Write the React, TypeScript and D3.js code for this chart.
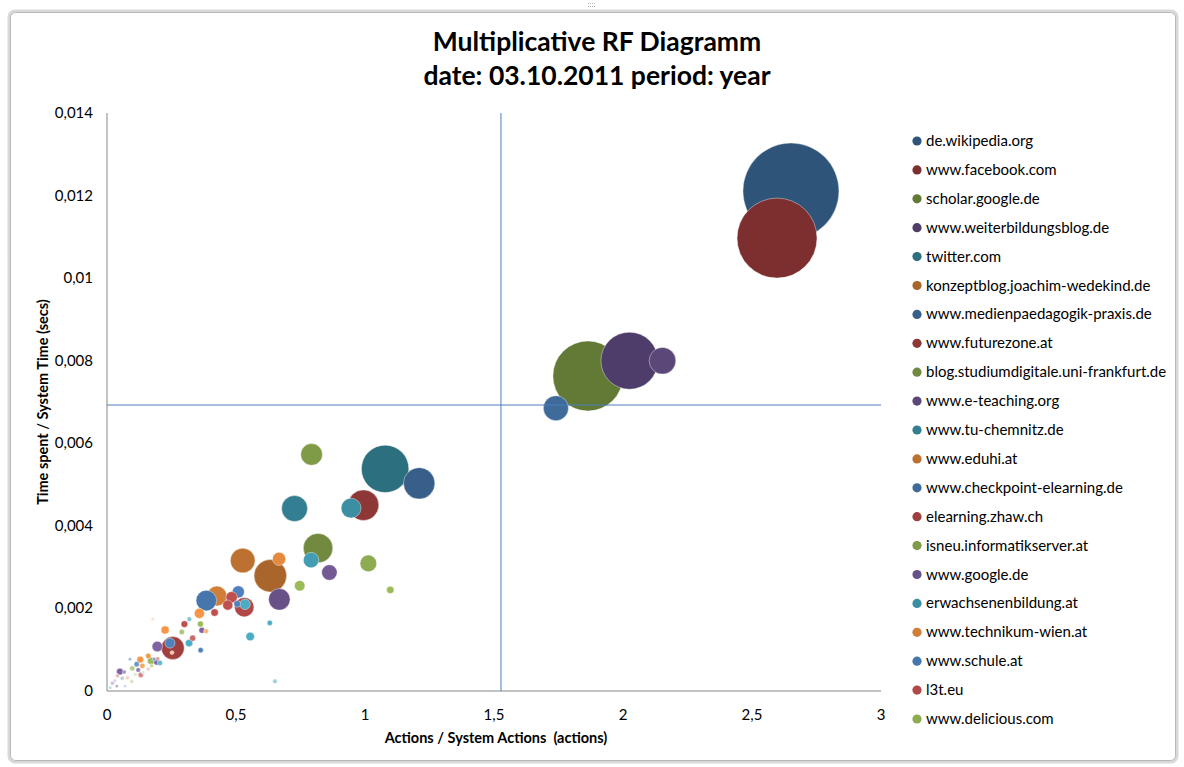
import React from "react";
import * as d3 from "d3";

// ---------- data ----------
const legendNames = [
  "de.wikipedia.org",
  "www.facebook.com",
  "scholar.google.de",
  "www.weiterbildungsblog.de",
  "twitter.com",
  "konzeptblog.joachim-wedekind.de",
  "www.medienpaedagogik-praxis.de",
  "www.futurezone.at",
  "blog.studiumdigitale.uni-frankfurt.de",
  "www.e-teaching.org",
  "www.tu-chemnitz.de",
  "www.eduhi.at",
  "www.checkpoint-elearning.de",
  "elearning.zhaw.ch",
  "isneu.informatikserver.at",
  "www.google.de",
  "erwachsenenbildung.at",
  "www.technikum-wien.at",
  "www.schule.at",
  "l3t.eu",
  "www.delicious.com",
];

// Actions / System Actions
const actionsRatio = [
  2.651, 2.597, 1.864, 2.025, 1.078, 0.633, 1.21, 0.994, 0.818, 2.153,
  0.727, 0.526, 1.74, 0.255, 0.793, 0.668, 0.946, 0.426, 0.385, 0.532,
  1.013, 0.862, 0.791, 0.667, 0.509, 0.483, 0.747, 0.195, 0.535, 0.358,
  0.244, 0.468, 1.098, 0.368, 0.555, 0.225, 0.505, 0.417, 0.171, 0.193,
  0.318, 0.129, 0.363, 0.3, 0.362, 0.05, 0.631, 0.16, 0.115, 0.332,
  0.29, 0.121, 0.205, 0.137, 0.183, 0.131, 0.098, 0.067, 0.319, 0.384,
  0.089, 0.197, 0.173, 0.038, 0.651, 0.252, 0.059, 0.041, 0.096, 0.021,
  0.012, 0.079, 0.07, 0.16, 0.11, 0.03, 0.14, 0.177,
];

// Time spent / System Time
const timeRatio = [
  0.01211, 0.01097, 0.00763, 0.008, 0.00538, 0.00279, 0.00503, 0.0045, 0.00346, 0.008,
  0.00442, 0.00316, 0.00685, 0.00104, 0.00573, 0.00222, 0.00443, 0.0023, 0.00219, 0.00203,
  0.00309, 0.00287, 0.00317, 0.0032, 0.0024, 0.00227, 0.00255, 0.00108, 0.0021, 0.00188,
  0.00116, 0.00208, 0.00245, 0.00147, 0.00132, 0.00148, 0.00211, 0.0019, 0.00073, 0.0007,
  0.00116, 0.00076, 0.00099, 0.00162, 0.00162, 0.00047, 0.00165, 0.00085, 0.00065, 0.00128,
  0.00143, 0.00051, 0.00068, 0.00061, 0.00077, 0.00039, 0.00055, 0.00046, 0.00174, 0.00145,
  0.00077, 0.00078, 0.00061, 0.00012, 0.000235, 0.00093, 0.00031, 0.00037, 0.00023, 0.00019,
  0.00008, 0.00032, 0.00012, 0.00053, 0.0004, 0.00025, 0.00045, 0.00174,
];

// bubble size (relative weight)
const bubbleSize = [
  1000, 694, 532, 353, 244, 115, 107, 102, 94, 77,
  73, 66, 68, 57, 51, 50, 43, 43, 46, 41,
  30, 26, 26, 19, 16, 14, 12, 12, 12, 11,
  11, 11, 6, 4, 8, 7, 5, 6, 6, 4,
  6, 5, 3, 5, 4, 5, 3, 3, 3, 4,
  3, 2.3, 3, 3, 1.7, 3, 3, 1.7, 2.3, 2.7,
  1.2, 1.7, 1.7, 1.2, 2.3, 1.7, 1.7, 1.7, 1.7, 1.7,
  1.2, 1.7, 1.2, 1.7, 1.7, 1.2, 1.2, 1.2,
];

const xTicks = [0, 0.5, 1, 1.5, 2, 2.5, 3];
const yTicks = [0, 0.002, 0.004, 0.006, 0.008, 0.01, 0.012, 0.014];

// reference cross lines
const crossX = 1.527;
const crossY = 0.006927;

const darkest = ["#2F5479", "#7D2F2F", "#637A36", "#4E3D6A", "#2C6F7F", "#A9652A"];
const base = ["#4F81BD", "#C0504D", "#9BBB59", "#8064A2", "#4BACC6", "#F79646"];

function seriesColor(i: number): string {
  const hue = i % 6;
  const level = Math.floor(i / 6);
  if (level <= 4) return d3.interpolateRgb(darkest[hue], base[hue])(level / 4);
  const t = Math.min(0.72, Math.max(0, level - 7) * 0.15);
  return d3.interpolateRgb(base[hue], "#ffffff")(t);
}

const fmt = (v: number) => String(v).replace(".", ",");

export default function App() {
  const W = 1184;
  const H = 767;
  const left = 107;
  const right = 881;
  const top = 113;
  const bottom = 691;

  const x = d3.scaleLinear().domain([0, 3]).range([left, right]);
  const y = d3.scaleLinear().domain([0, 0.014]).range([bottom, top]);
  const r = d3.scaleSqrt().domain([0, 1000]).range([0, 48]);

  const idx = d3.range(actionsRatio.length);
  const font = "Lato, 'Open Sans', sans-serif";

  const legendX = 917;
  const legendY0 = 141;
  const legendStep = 28.9;

  return (
    <svg
      width={W}
      height={H}
      style={{ position: "absolute", left: 0, top: 0, background: "#fff" }}
      fontFamily={font}
    >
      {/* chart frame */}
      <rect x={9} y={11} width={1168} height={751} rx={6} fill="#fff" stroke="#d9d9d9" strokeWidth={3} />
      <rect x={10.5} y={12.5} width={1165} height={748} rx={5} fill="none" stroke="#b8b8b8" strokeWidth={1} />
      <g fill="#b0b0b0">
        {[0, 1, 2, 3].map((k) => (
          <React.Fragment key={k}>
            <rect x={588 + k * 2} y={3} width={1} height={1} />
            <rect x={588 + k * 2} y={6} width={1} height={1} />
          </React.Fragment>
        ))}
      </g>

      {/* title */}
      <text x={597} y={51} textAnchor="middle" fontSize={26.5} fontWeight="bold" fill="#000">
        Multiplicative RF Diagramm
      </text>
      <text x={597} y={85} textAnchor="middle" fontSize={26.5} fontWeight="bold" fill="#000">
        date: 03.10.2011 period: year
      </text>

      {/* axes */}
      <line x1={left} x2={left} y1={top} y2={bottom} stroke="#868686" strokeWidth={1} />
      <line x1={left} x2={right} y1={bottom} y2={bottom} stroke="#868686" strokeWidth={1} />

      {yTicks.map((t) => (
        <text key={t} x={93} y={y(t) + 5} textAnchor="end" fontSize={15} fill="#000">
          {fmt(t)}
        </text>
      ))}
      {xTicks.map((t) => (
        <text key={t} x={x(t)} y={720} textAnchor="middle" fontSize={15} fill="#000">
          {fmt(t)}
        </text>
      ))}

      <text
        x={496}
        y={743}
        textAnchor="middle"
        fontSize={14.5}
        fontWeight="bold"
        fill="#000"
        style={{ whiteSpace: "pre" }}
      >
        {"Actions / System Actions  (actions)"}
      </text>
      <text
        transform={`translate(48, ${(top + bottom) / 2}) rotate(-90)`}
        textAnchor="middle"
        fontSize={14.5}
        fontWeight="bold"
        fill="#000"
      >
        Time spent / System Time (secs)
      </text>

      {/* bubbles */}
      <g>
        {idx.map((i) => (
          <circle
            key={i}
            cx={x(actionsRatio[i])}
            cy={y(timeRatio[i])}
            r={r(bubbleSize[i])}
            fill={seriesColor(i)}
            stroke="rgba(255,255,255,0.5)"
            strokeWidth={0.8}
          />
        ))}
      </g>

      {/* cross lines */}
      <line x1={x(crossX)} x2={x(crossX)} y1={top} y2={bottom} stroke="#4a7ebb" strokeWidth={1} />
      <line x1={left} x2={right} y1={y(crossY)} y2={y(crossY)} stroke="#4a7ebb" strokeWidth={1} />

      {/* legend */}
      {legendNames.map((name, i) => (
        <g key={name} transform={`translate(${legendX}, ${legendY0 + i * legendStep})`}>
          <circle r={4.6} fill={seriesColor(i)} />
          <text x={9} y={5} fontSize={15} fill="#000">
            {name}
          </text>
        </g>
      ))}
    </svg>
  );
}
